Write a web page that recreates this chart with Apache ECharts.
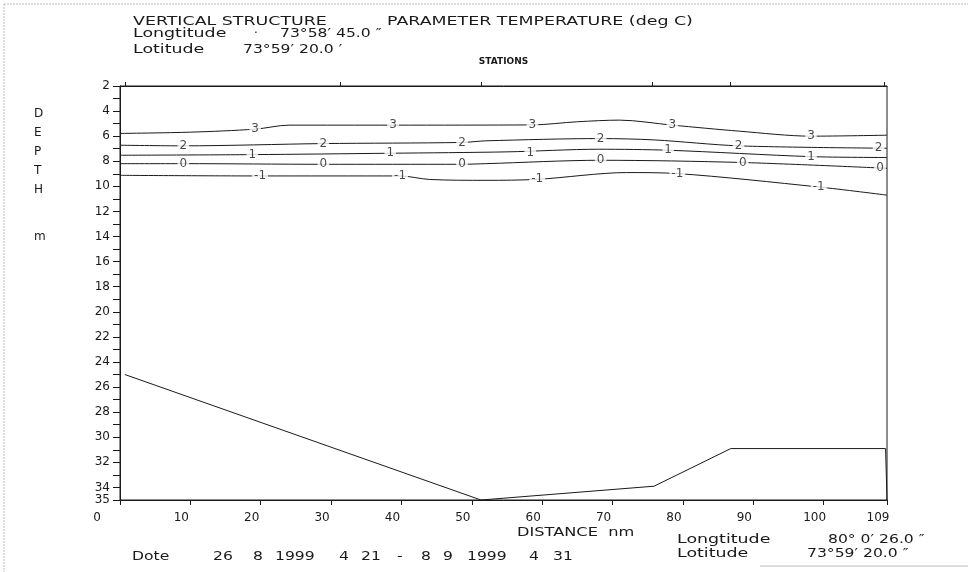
<!DOCTYPE html>
<html>
<head>
<meta charset="utf-8">
<script src="https://cdn.jsdelivr.net/npm/echarts@6/dist/echarts.min.js"></script>
<style>
  html, body { margin: 0; padding: 0; background: #fff; }
  #chart { width: 968px; height: 572px; }
</style>
</head>
<body>
<div id="chart"></div>
<script>
// stations along the section (distance nm)
const stationNames = ['25', '38', '39', '35', '14', '3 16']
const stationDist = [0.7, 31.3, 51.4, 75.6, 86.7, 108.6]

// sea bottom profile [distance, depth]
const bottom = [[0.7, 25], [51.3, 35], [75.9, 33.9], [86.8, 30.9], [108.8, 30.9], [109, 35]]

// temperature isolines [distance, depth]
const iso3 = [[0, 5.78], [10, 5.68], [19.2, 5.44], [24, 5.12], [38.8, 5.12], [58.6, 5.1], [65, 4.85], [71, 4.72], [78.5, 5.12], [88, 5.6], [98.2, 6.0], [109, 5.92]]
const iso2 = [[0, 6.72], [9, 6.77], [28.9, 6.59], [48.6, 6.5], [52, 6.37], [68.3, 6.19], [76, 6.3], [87.9, 6.77], [109, 6.96]]
const iso1 = [[0, 7.52], [18.8, 7.47], [38.4, 7.36], [55, 7.25], [68, 7.04], [77.9, 7.12], [98.2, 7.63], [109, 7.7]]
const iso0 = [[0, 8.19], [9, 8.19], [28.9, 8.24], [48.6, 8.24], [52, 8.19], [68.3, 7.92], [88.5, 8.1], [109, 8.56]]
const isoM1 = [[0, 9.12], [19.9, 9.17], [39.8, 9.17], [44, 9.45], [52, 9.52], [59.3, 9.44], [72, 8.9], [79.2, 8.98], [99.3, 10.05], [109, 10.7]]

// label spots on the isolines
const lab3 = [[19.2, 5.44], [38.8, 5.12], [58.6, 5.1], [78.5, 5.12], [98.2, 6.0]]
const lab2 = [[9.0, 6.77], [28.9, 6.59], [48.6, 6.5], [68.3, 6.19], [87.9, 6.77], [107.8, 6.93]]
const lab1 = [[18.8, 7.47], [38.4, 7.36], [58.3, 7.3], [77.9, 7.12], [98.2, 7.63]]
const lab0 = [[9.0, 8.19], [28.9, 8.24], [48.6, 8.24], [68.3, 7.92], [88.5, 8.1], [108.0, 8.56]]
const labM1 = [[19.9, 9.17], [39.8, 9.17], [59.3, 9.44], [79.2, 8.98], [99.3, 10.05]]

const isolines = [
  { level: '3', line: iso3, labels: lab3 },
  { level: '2', line: iso2, labels: lab2 },
  { level: '1', line: iso1, labels: lab1 },
  { level: '0', line: iso0, labels: lab0 },
  { level: '-1', line: isoM1, labels: labM1 }
]

const FONT = 'DejaVu Sans'
const INK = '#1a1a1a'

const chart = echarts.init(document.getElementById('chart'))

const series = [
  {
    type: 'line',
    data: bottom,
    symbol: 'none',
    lineStyle: { color: INK, width: 1 },
    z: 3
  }
]
isolines.forEach(iso => {
  series.push({
    type: 'line',
    data: iso.line,
    symbol: 'none',
    smooth: 0.3,
    lineStyle: { color: INK, width: 1 },
    z: 3
  })
  series.push({
    type: 'scatter',
    data: iso.labels,
    symbolSize: 1,
    itemStyle: { color: 'rgba(0,0,0,0)' },
    label: {
      show: true,
      position: 'inside',
      formatter: iso.level,
      color: INK,
      fontFamily: FONT,
      fontSize: 12,
      backgroundColor: '#fff',
      padding: [0, 2]
    },
    z: 5
  })
})

// plotter-like wide text: scaled horizontally from its left edge
function txt(x, y, s, sx) {
  return {
    type: 'text',
    x: x,
    y: y,
    scaleX: sx || 1.45,
    style: { text: s, font: '12px "DejaVu Sans"', fill: INK, textAlign: 'left', textVerticalAlign: 'middle' }
  }
}

const depthLetters = [['D', 114], ['E', 133], ['P', 152], ['T', 171], ['H', 190], ['m', 237]]
const dateTokens = [['Dote', 132], ['26', 213], ['8', 253], ['1999', 275], ['4', 339], ['21', 361], ['-', 397], ['8', 421], ['9', 443], ['1999', 467], ['4', 529], ['31', 553]]

const graphic = [
  { type: 'line', shape: { x1: 4, y1: 4, x2: 968, y2: 4 }, style: { stroke: '#bbb', lineWidth: 1, lineDash: [2, 1] } },
  { type: 'line', shape: { x1: 4, y1: 4, x2: 4, y2: 572 }, style: { stroke: '#bbb', lineWidth: 1, lineDash: [2, 1] } },
  { type: 'line', shape: { x1: 760, y1: 566, x2: 968, y2: 566 }, style: { stroke: '#bbb', lineWidth: 1 } },
  txt(133, 22, 'VERTICAL STRUCTURE'),
  txt(387, 22, 'PARAMETER TEMPERATURE (deg C)'),
  txt(133, 34, 'Longtitude'),
  txt(254, 34, '·', 1),
  txt(280, 34, '73°58′ 45.0 ″', 1.3),
  txt(133, 50, 'Lotitude'),
  txt(243, 50, '73°59′ 20.0 ′', 1.3),
  txt(517, 533, 'DISTANCE  nm', 1.35),
  txt(677, 540, 'Longtitude'),
  txt(828, 540, '80° 0′ 26.0 ″', 1.3),
  txt(677, 554, 'Lotitude'),
  txt(807, 554, '73°59′ 20.0 ″', 1.3)
]
depthLetters.forEach(d => graphic.push(txt(34, d[1], d[0], 1)))
dateTokens.forEach(d => graphic.push(txt(d[1], 557, d[0], 1.3)))

const option = {
  backgroundColor: '#fff',
  animation: false,
  grid: { left: 120, right: 81, top: 86, bottom: 72, show: true, borderColor: INK, borderWidth: 1 },
  xAxis: [
    {
      type: 'value',
      min: 0,
      max: 109,
      interval: 10,
      axisLine: { show: true, lineStyle: { color: INK } },
      axisTick: { show: true, length: 5, lineStyle: { color: INK } },
      axisLabel: {
        color: INK,
        fontFamily: FONT,
        fontSize: 12,
        margin: 12,
        padding: [0, 18, 0, 0],
        formatter: v => v === 0 ? '{z|0}' : String(v),
        rich: { z: { fontFamily: FONT, fontSize: 12, color: INK, padding: [0, 28, 0, 0] } }
      },
      splitLine: { show: false }
    },
    {
      type: 'value',
      position: 'top',
      min: 0,
      max: 109,
      name: 'STATIONS',
      nameLocation: 'middle',
      nameGap: 20,
      nameTextStyle: { color: INK, fontFamily: FONT, fontSize: 9, fontWeight: 'bold' },
      axisLine: { show: true, lineStyle: { color: INK } },
      axisTick: { show: true, length: 4, customValues: stationDist, lineStyle: { color: INK } },
      axisLabel: {
        customValues: stationDist,
        formatter: (v, i) => stationNames[i],
        color: INK,
        fontFamily: FONT,
        fontSize: 9,
        margin: 6,
        padding: [0, 0, 0, 16]
      },
      splitLine: { show: false }
    }
  ],
  yAxis: {
    type: 'value',
    inverse: true,
    min: 2,
    max: 35,
    interval: 1,
    axisLine: { show: true, lineStyle: { color: INK } },
    axisTick: { show: true, length: 7, lineStyle: { color: INK } },
    axisLabel: {
      color: INK,
      fontFamily: FONT,
      fontSize: 12,
      margin: 10,
      formatter: v => (v % 2 === 0 || v === 35) ? String(v) : ''
    },
    splitLine: { show: false }
  },
  graphic,
  series
}

chart.setOption(option)
</script>
</body>
</html>
